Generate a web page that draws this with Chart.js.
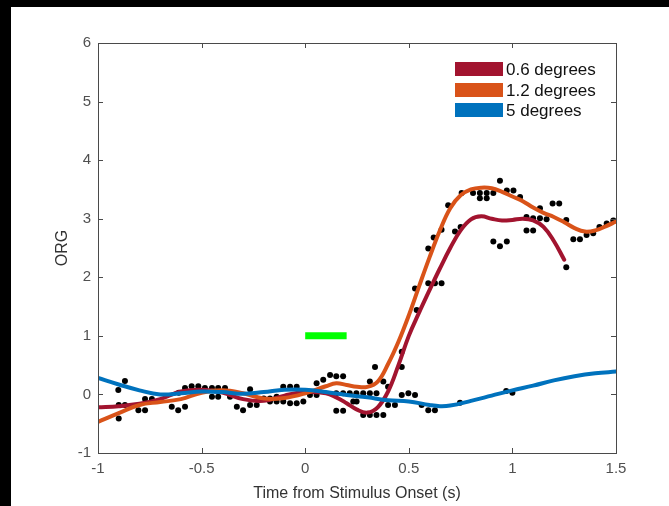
<!DOCTYPE html>
<html>
<head>
<meta charset="utf-8">
<script src="https://cdn.jsdelivr.net/npm/chart.js@4/dist/chart.umd.min.js"></script>
<style>
  html, body { margin: 0; padding: 0; background: #000; width: 669px; height: 506px; overflow: hidden; }
  #wrap { position: absolute; left: 11px; top: 7px; width: 658px; height: 499px; background: #fff; }
  canvas { display: block; }
</style>
</head>
<body>
<div id="wrap"><canvas id="c" width="658" height="499"></canvas></div>
<script>
// ---- data ----
const seriesLabels = ['0.6 degrees', '1.2 degrees', '5 degrees'];
const seriesColors = ['#A2142F', '#D95319', '#0072BD'];

const redX = [-1, -0.9, -0.8, -0.7, -0.6, -0.5, -0.4, -0.3, -0.2, -0.1, 0, 0.1, 0.15, 0.2, 0.25, 0.3, 0.35, 0.4, 0.45, 0.5, 0.55, 0.6, 0.65, 0.7, 0.75, 0.8, 0.85, 0.9, 0.95, 1.0, 1.05, 1.1, 1.15, 1.2, 1.25];
const redY = [-0.22, -0.2, -0.16, -0.08, 0.05, 0.08, 0.03, -0.08, -0.11, -0.02, 0.04, 0.02, -0.05, -0.15, -0.26, -0.31, -0.22, 0.05, 0.5, 1.0, 1.4, 1.78, 2.15, 2.5, 2.8, 2.99, 3.04, 3.0, 2.97, 2.98, 3.0, 2.97, 2.86, 2.62, 2.3];

const orangeX = [-1, -0.9, -0.8, -0.7, -0.6, -0.5, -0.4, -0.3, -0.2, -0.1, 0, 0.1, 0.15, 0.2, 0.25, 0.3, 0.35, 0.4, 0.45, 0.5, 0.55, 0.6, 0.65, 0.7, 0.75, 0.8, 0.85, 0.9, 0.95, 1.0, 1.05, 1.1, 1.15, 1.2, 1.25, 1.3, 1.35, 1.4, 1.45, 1.5];
const orangeY = [-0.47, -0.32, -0.18, -0.13, -0.08, 0.03, 0.07, 0.02, -0.07, -0.06, 0.02, 0.14, 0.19, 0.16, 0.13, 0.13, 0.22, 0.52, 0.9, 1.35, 1.85, 2.34, 2.8, 3.18, 3.4, 3.5, 3.53, 3.52, 3.46, 3.38, 3.3, 3.19, 3.1, 3.03, 2.94, 2.84, 2.78, 2.8, 2.87, 2.95];

const blueX = [-1, -0.9, -0.8, -0.7, -0.6, -0.5, -0.4, -0.3, -0.2, -0.1, 0, 0.1, 0.2, 0.3, 0.4, 0.5, 0.6, 0.65, 0.7, 0.8, 0.9, 1.0, 1.1, 1.2, 1.3, 1.4, 1.5];
const blueY = [0.28, 0.17, 0.07, 0.0, 0.02, 0.05, 0.04, 0.01, 0.04, 0.08, 0.08, 0.04, -0.01, -0.05, -0.1, -0.12, -0.18, -0.2, -0.19, -0.11, -0.02, 0.07, 0.15, 0.24, 0.31, 0.36, 0.39];

const dotX = [-0.902, -0.87, -0.90, -0.87, -0.90, -0.805, -0.773, -0.773, -0.74, -0.644, -0.613, -0.58, -0.61, -0.58, -0.548, -0.516, -0.484, -0.45, -0.42, -0.387, -0.45, -0.42, -0.363, -0.33, -0.30, -0.266, -0.266, -0.234, -0.20, -0.17, -0.138, -0.17, -0.138, -0.106, -0.106, -0.073, -0.041, -0.073, -0.041, -0.009, 0.023, 0.055, 0.055, 0.087, 0.12, 0.15, 0.183, 0.15, 0.183, 0.215, 0.247, 0.28, 0.312, 0.344, 0.15, 0.183, 0.232, 0.248, 0.28, 0.312, 0.344, 0.377, 0.312, 0.337, 0.377, 0.40, 0.40, 0.433, 0.466, 0.498, 0.53, 0.562, 0.594, 0.626, 0.747, 0.97, 1.0, 0.466, 0.466, 0.538, 0.53, 0.594, 0.626, 0.658, 0.594, 0.62, 0.658, 0.69, 0.723, 0.75, 0.755, 0.81, 0.843, 0.876, 0.908, 0.843, 0.876, 0.94, 0.973, 1.005, 1.037, 0.908, 0.94, 0.973, 1.068, 1.1, 1.133, 1.165, 1.068, 1.1, 1.133, 1.194, 1.226, 1.26, 1.26, 1.294, 1.326, 1.358, 1.39, 1.42, 1.455, 1.487];
const dotY = [0.075, 0.23, -0.18, -0.18, -0.41, -0.27, -0.27, -0.08, -0.08, -0.21, -0.27, -0.21, 0.03, 0.11, 0.14, 0.14, 0.11, 0.11, 0.11, 0.11, -0.04, -0.04, -0.04, -0.21, -0.27, 0.09, -0.18, -0.18, -0.07, -0.07, -0.04, -0.12, -0.12, -0.12, 0.13, 0.13, 0.13, -0.15, -0.15, -0.12, -0.01, -0.01, 0.19, 0.25, 0.33, 0.31, 0.31, 0.02, 0.02, 0.02, 0.02, 0.02, 0.02, 0.02, -0.28, -0.28, -0.12, -0.12, -0.35, -0.35, -0.35, -0.35, 0.22, 0.47, 0.22, 0.13, -0.18, -0.18, -0.01, 0.02, -0.01, -0.18, -0.27, -0.27, -0.14, 0.06, 0.03, 0.73, 0.47, 1.44, 1.81, 1.90, 1.90, 1.90, 2.49, 2.68, 2.81, 3.23, 2.78, 2.86, 3.44, 3.44, 3.44, 3.44, 3.44, 3.35, 3.35, 3.65, 3.48, 3.48, 3.37, 2.61, 2.53, 2.61, 3.03, 3.01, 3.01, 2.99, 2.80, 2.80, 3.18, 3.26, 3.26, 2.98, 2.17, 2.65, 2.65, 2.72, 2.75, 2.86, 2.92, 2.97];

const stimX = [0, 0.2];
const stimY = [1, 1];

const xTicks = [-1, -0.5, 0, 0.5, 1, 1.5];
const yTicks = [-1, 0, 1, 2, 3, 4, 5, 6];

const xTitle = 'Time from Stimulus Onset (s)';
const yTitle = 'ORG';

// ---- build ----
const pts = (xs, ys) => xs.map((x, i) => ({ x: x, y: ys[i] }));

const lineDs = (label, xs, ys, color, order) => ({
  type: 'line', label: label, data: pts(xs, ys),
  borderColor: color, backgroundColor: color, borderWidth: 4,
  pointRadius: 0, tension: 0.4, fill: false, order: order,
  borderCapStyle: 'round', borderJoinStyle: 'round'
});

const frameColor = '#4a4a4a';
const FONT = '"Liberation Sans", Arial, sans-serif';

const framePlugin = {
  id: 'frameTicks',
  afterDraw(chart) {
    const { ctx, chartArea: a, scales: { x, y } } = chart;
    ctx.save();
    ctx.strokeStyle = frameColor;
    ctx.lineWidth = 1;
    ctx.strokeRect(Math.round(a.left) + 0.5, Math.round(a.top) + 0.5, Math.round(a.right - a.left), Math.round(a.bottom - a.top));
    const L = 5;
    ctx.beginPath();
    xTicks.forEach(v => {
      const p = Math.round(x.getPixelForValue(v)) + 0.5;
      ctx.moveTo(p, a.bottom); ctx.lineTo(p, a.bottom - L);
      ctx.moveTo(p, a.top); ctx.lineTo(p, a.top + L);
    });
    yTicks.forEach(v => {
      const p = Math.round(y.getPixelForValue(v)) + 0.5;
      ctx.moveTo(a.left, p); ctx.lineTo(a.left + L, p);
      ctx.moveTo(a.right, p); ctx.lineTo(a.right - L, p);
    });
    ctx.stroke();

    // legend (top-right, inside plot)
    const boxL = a.right - 161, boxW = 48, boxH = 14;
    const rows = [a.top + 26, a.top + 47, a.top + 67];
    ctx.font = '17px ' + FONT;
    ctx.textBaseline = 'middle';
    ctx.textAlign = 'left';
    seriesLabels.forEach((lab, i) => {
      ctx.fillStyle = seriesColors[i];
      ctx.fillRect(boxL, rows[i] - boxH / 2, boxW, boxH);
      ctx.fillStyle = '#111';
      ctx.fillText(lab, boxL + boxW + 3, rows[i] + 1);
    });
    ctx.restore();
  }
};

new Chart(document.getElementById('c'), {
  data: {
    datasets: [
      { type: 'scatter', label: 'data', data: pts(dotX, dotY), backgroundColor: '#000', borderColor: '#000', pointRadius: 3, borderWidth: 0, order: 10 },
      lineDs(seriesLabels[0], redX, redY, seriesColors[0], 5),
      lineDs(seriesLabels[1], orangeX, orangeY, seriesColors[1], 4),
      lineDs(seriesLabels[2], blueX, blueY, seriesColors[2], 3),
      { type: 'line', label: 'stimulus', data: pts(stimX, stimY), borderColor: '#00FF00', borderWidth: 7, pointRadius: 0, tension: 0, borderCapStyle: 'butt', order: 2 }
    ]
  },
  options: {
    responsive: false,
    animation: false,
    devicePixelRatio: 1,
    layout: { padding: { left: 0, right: 53, top: 36, bottom: 0 } },
    plugins: { legend: { display: false }, tooltip: { enabled: false } },
    scales: {
      x: {
        type: 'linear', min: -1, max: 1.5,
        afterFit: s => { s.height = 53; },
        afterBuildTicks: s => { s.ticks = xTicks.map(v => ({ value: v })); },
        grid: { display: false, drawTicks: false },
        border: { display: false },
        ticks: { padding: 7, color: '#505050', font: { family: FONT, size: 15 }, maxRotation: 0, callback: v => String(v) },
        title: { display: true, text: xTitle, color: '#333', font: { family: FONT, size: 16 }, padding: { top: 0, bottom: 3 } }
      },
      y: {
        type: 'linear', min: -1, max: 6,
        afterFit: s => { s.width = 87; },
        afterBuildTicks: s => { s.ticks = yTicks.map(v => ({ value: v })); },
        grid: { display: false, drawTicks: false },
        border: { display: false },
        ticks: { padding: 7, color: '#505050', font: { family: FONT, size: 15 }, callback: v => String(v) },
        title: { display: true, text: yTitle, color: '#333', font: { family: FONT, size: 16 }, padding: { top: 42, bottom: 0 } }
      }
    }
  },
  plugins: [framePlugin]
});
</script>
</body>
</html>
